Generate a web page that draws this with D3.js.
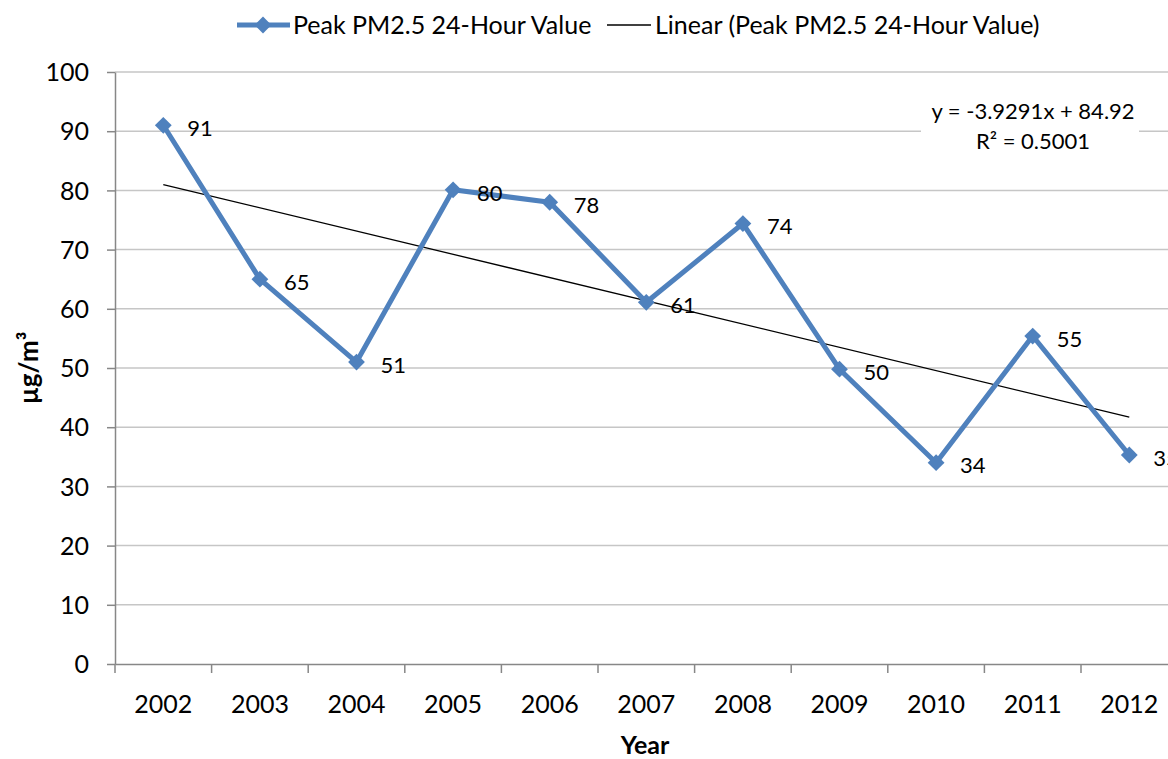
<!DOCTYPE html>
<html>
<head>
  <meta charset="utf-8">
  <script src="https://d3js.org/d3.v7.min.js"></script>
  <style>
    body { margin: 0; background: #fff; }
    text { font-family: Lato, "Open Sans", sans-serif; fill: #000; }
    .grid line { stroke: #c6c6c6; stroke-width: 1.5px; }
    .axis path, .axis line { stroke: #878787; stroke-width: 1.5px; }
  </style>
</head>
<body>
  <svg width="1168" height="759"></svg>
  <script>
    const years = ["2002","2003","2004","2005","2006","2007","2008","2009","2010","2011","2012"];
    const peak = [91, 65, 51, 80.1, 78, 61.1, 74.4, 49.8, 34, 55.4, 35.3];
    const trendCoef = [-3.9291, 84.92];   // slope, intercept
    const rSquared = ["0.5001"];
    const yTicks = [0, 10, 20, 30, 40, 50, 60, 70, 80, 90, 100];

    const svg = d3.select("svg");
    const plotLeft = 115, plotTop = 72, plotBottom = 664;
    const bandW = 96.6;
    const plotRight = plotLeft + bandW * years.length;

    const x = d3.scaleBand().domain(years).range([plotLeft, plotRight]);
    const y = d3.scaleLinear().domain([0, 100]).range([plotBottom, plotTop]);
    const cx = d => x(d) + x.bandwidth() / 2;

    // gridlines
    svg.append("g").attr("class", "grid")
      .selectAll("line").data(yTicks.filter(t => t > 0)).enter().append("line")
      .attr("x1", plotLeft).attr("x2", plotRight)
      .attr("y1", d => y(d)).attr("y2", d => y(d));

    // equation box (drawn over the gridlines)
    svg.append("rect").attr("x", 921).attr("y", 96).attr("width", 218).attr("height", 62).attr("fill", "#fff");

    // y axis
    const yAxis = svg.append("g").attr("class", "axis")
      .attr("transform", `translate(${plotLeft},0)`)
      .call(d3.axisLeft(y).tickValues(yTicks).tickSize(8).tickSizeOuter(0));
    yAxis.selectAll("text").attr("font-size", 25).attr("x", -26).attr("dy", "0.35em");

    // x axis
    const xAxis = svg.append("g").attr("class", "axis")
      .attr("transform", `translate(0,${plotBottom})`)
      .call(d3.axisBottom(x).tickSize(0).tickSizeOuter(0));
    xAxis.selectAll("text").attr("font-size", 25).attr("y", 40).attr("dy", "0.35em");
    xAxis.selectAll(".sep").data(years.concat(["end"])).enter().append("line")
      .attr("class", "sep")
      .attr("x1", (d, i) => plotLeft + i * bandW).attr("x2", (d, i) => plotLeft + i * bandW)
      .attr("y1", 0).attr("y2", 9);

    // axis titles
    svg.append("text").attr("x", 645).attr("y", 745).attr("dy", "0.35em").attr("text-anchor", "middle")
      .attr("font-size", 25).attr("font-weight", "bold").text("Year");
    svg.append("text").attr("transform", "translate(29,368) rotate(-90)").attr("dy", "0.35em")
      .attr("text-anchor", "middle")
      .attr("font-size", 26).attr("font-weight", "bold")
      .text("µg/m³");

    // trend line
    const trend = (i) => trendCoef[0] * (i + 1) + trendCoef[1];
    svg.append("line")
      .attr("x1", cx(years[0])).attr("y1", y(trend(0)))
      .attr("x2", cx(years[years.length - 1])).attr("y2", y(trend(years.length - 1)))
      .attr("stroke", "#000").attr("stroke-width", 1.3);

    // series line
    const series = years.map((yr, i) => ({ yr, v: peak[i] }));
    svg.append("path").datum(series)
      .attr("fill", "none").attr("stroke", "#4f81bd").attr("stroke-width", 5)
      .attr("stroke-linejoin", "round")
      .attr("d", d3.line().x(d => cx(d.yr)).y(d => y(d.v)));

    const diamond = d3.symbol().type(d3.symbolDiamond2).size(180);
    svg.selectAll(".pt").data(series).enter().append("path")
      .attr("class", "pt")
      .attr("transform", d => `translate(${cx(d.yr)},${y(d.v)})`)
      .attr("d", diamond).attr("fill", "#4f81bd");

    svg.selectAll(".lbl").data(series).enter().append("text")
      .attr("class", "lbl")
      .attr("x", d => cx(d.yr) + 24).attr("y", d => y(d.v) + 3)
      .attr("dy", "0.35em").attr("font-size", 22)
      .text(d => d3.format(".0f")(d.v));

    // equation text
    svg.append("text").attr("x", 1033).attr("y", 111).attr("dy", "0.35em").attr("text-anchor", "middle")
      .attr("font-size", 22)
      .text(`y = ${trendCoef[0]}x + ${trendCoef[1]}`);
    svg.append("text").attr("x", 1033).attr("y", 141).attr("dy", "0.35em").attr("text-anchor", "middle")
      .attr("font-size", 22)
      .text(`R² = ${rSquared[0]}`);

    // legend
    const lg = svg.append("g");
    lg.append("line").attr("x1", 237).attr("x2", 290).attr("y1", 25).attr("y2", 25)
      .attr("stroke", "#4f81bd").attr("stroke-width", 5);
    lg.append("path").attr("transform", "translate(263,25)").attr("d", diamond).attr("fill", "#4f81bd");
    lg.append("text").attr("x", 293).attr("y", 25).attr("dy", "0.35em").attr("font-size", 25)
      .text("Peak PM2.5 24-Hour Value");
    lg.append("line").attr("x1", 607).attr("x2", 651).attr("y1", 25).attr("y2", 25)
      .attr("stroke", "#000").attr("stroke-width", 1.3);
    lg.append("text").attr("x", 655).attr("y", 25).attr("dy", "0.35em").attr("font-size", 25)
      .text("Linear (Peak PM2.5 24-Hour Value)");
  </script>
</body>
</html>
